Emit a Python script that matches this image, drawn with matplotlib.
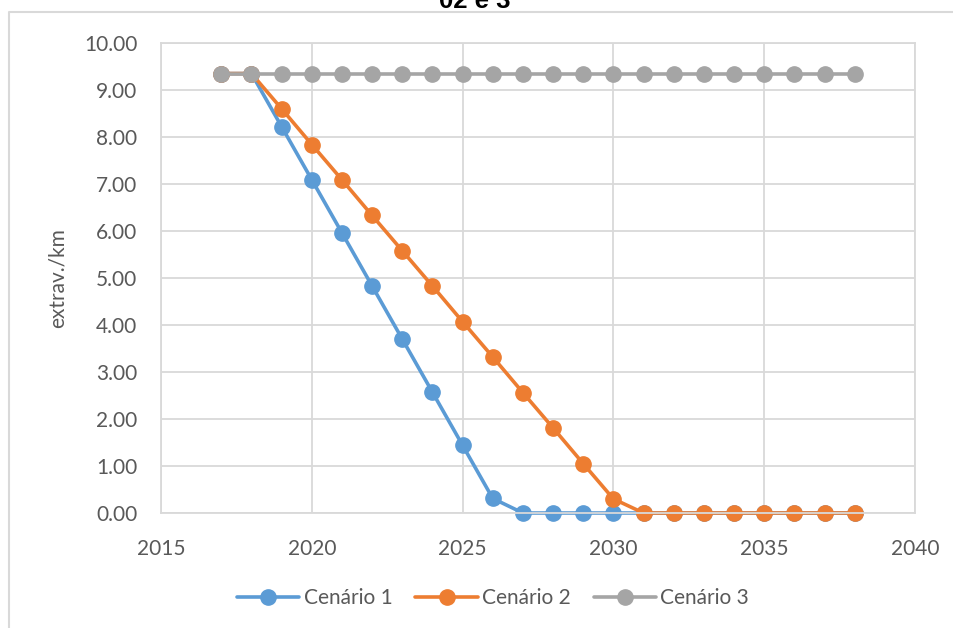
import matplotlib.pyplot as plt
from matplotlib.lines import Line2D
from matplotlib.ticker import FormatStrFormatter, MultipleLocator

anos = list(range(2017, 2039))
cenario_1 = [9.35, 9.35, 8.22, 7.09, 5.96, 4.83, 3.70, 2.57, 1.44, 0.31,
             0.00, 0.00, 0.00, 0.00, 0.00, 0.00, 0.00, 0.00, 0.00, 0.00, 0.00, 0.00]
cenario_2 = [9.35, 9.35, 8.60, 7.84, 7.09, 6.33, 5.58, 4.83, 4.07, 3.32,
             2.56, 1.81, 1.05, 0.30, 0.00, 0.00, 0.00, 0.00, 0.00, 0.00, 0.00, 0.00]
cenario_3 = [9.35] * 22
nomes = ["Cenário 1", "Cenário 2", "Cenário 3"]
cores = ["#5B9BD5", "#ED7D31", "#A5A5A5"]

plt.rcParams["font.family"] = ["Lato", "DejaVu Sans"]
texto = "#595959"
grade = "#d9d9d9"

fig = plt.figure(figsize=(9.54, 6.28), dpi=100)
ax = fig.add_axes([161 / 954, 1 - 513 / 628, (915 - 161) / 954, (513 - 43) / 628])

for serie, nome, cor in zip([cenario_1, cenario_2, cenario_3], nomes, cores):
    ax.plot(anos, serie, color=cor, lw=2.6, marker="o", markersize=11,
            label=nome, solid_capstyle="round", clip_on=False)

ax.set_xlim(2015, 2040)
ax.set_ylim(0, 10)
ax.xaxis.set_major_locator(MultipleLocator(5))
ax.yaxis.set_major_locator(MultipleLocator(1))
ax.yaxis.set_major_formatter(FormatStrFormatter("%.2f"))
ax.grid(True, color=grade, lw=1.3)
ax.set_axisbelow(True)
for s in ax.spines.values():
    s.set_color(grade)
    s.set_linewidth(1.3)
ax.tick_params(length=0, labelsize=15, colors=texto)
ax.tick_params(axis="x", pad=19)
ax.tick_params(axis="y", pad=17)
ax.set_ylabel("extrav./km", fontsize=15, color=texto, labelpad=12)

ax.legend(loc="center", bbox_to_anchor=(493 / 954, 1 - 598 / 628),
          bbox_transform=fig.transFigure, ncol=3, frameon=False,
          fontsize=15, labelcolor=texto, handlelength=3.0,
          columnspacing=1.1, handletextpad=0.2)

# borda do gráfico e título cortado
fig.add_artist(Line2D([9 / 954, 9 / 954, 1], [0, 1 - 12 / 628, 1 - 12 / 628],
                      color=grade, lw=1.5))
fig.text(475 / 954, 1 - 8 / 628, "02 e 3", ha="center", va="baseline",
         fontsize=18.5, fontweight="bold", family="Liberation Sans")

fig.savefig("out.png", dpi=100)
